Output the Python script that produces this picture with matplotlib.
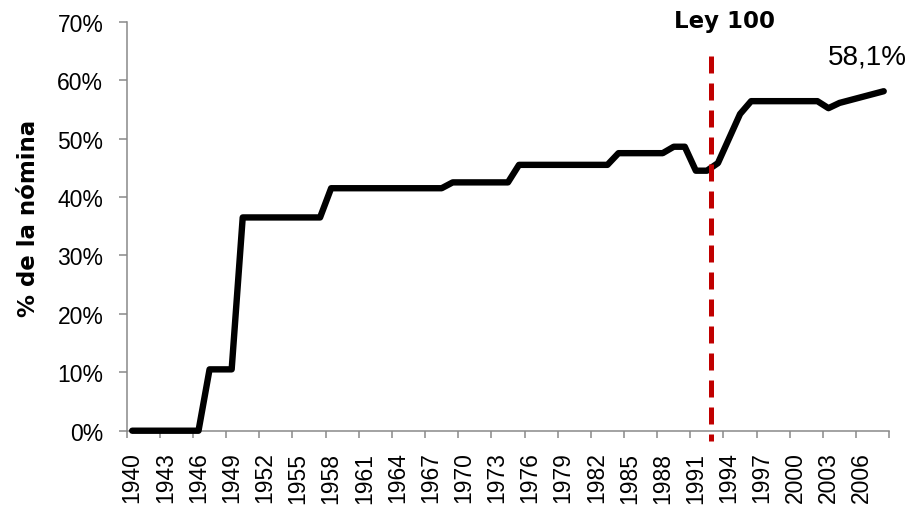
import matplotlib
matplotlib.use("Agg")
import matplotlib.pyplot as plt
from matplotlib.ticker import FuncFormatter, FixedLocator

# Contribution rate as share of payroll, 1940-2008
years = list(range(1940, 2009))
rate = [
    0.0, 0.0, 0.0, 0.0, 0.0, 0.0, 0.0,                      # 1940-1946
    10.5, 10.5, 10.5,                                        # 1947-1949
    36.5, 36.5, 36.5, 36.5, 36.5, 36.5, 36.5, 36.5,          # 1950-1957
    41.5, 41.5, 41.5, 41.5, 41.5, 41.5, 41.5, 41.5, 41.5, 41.5, 41.5,  # 1958-1968
    42.5, 42.5, 42.5, 42.5, 42.5, 42.5,                      # 1969-1974
    45.5, 45.5, 45.5, 45.5, 45.5, 45.5, 45.5, 45.5, 45.5,    # 1975-1983
    47.5, 47.5, 47.5, 47.5, 47.5,                            # 1984-1988
    48.6, 48.6,                                              # 1989-1990
    44.5, 44.5,                                              # 1991-1992
    45.8, 50.0, 54.2,                                        # 1993-1995
    56.4, 56.4, 56.4, 56.4, 56.4, 56.4, 56.4,                # 1996-2002
    55.2, 56.1, 56.6, 57.1, 57.6, 58.1,                      # 2003-2008
]
label_years = list(range(1940, 2007, 3))
ley100_x = 1992.35
end_label = "58,1%"

plt.rcParams["font.family"] = ["Liberation Sans", "DejaVu Sans"]

fig = plt.figure(figsize=(9.1, 5.1), dpi=100)
ax = fig.add_axes([0.1392, 0.1535, 0.8380, 0.8020])

ax.plot(years, [v / 100 for v in rate], color="black", lw=4.6,
        solid_capstyle="round", solid_joinstyle="round", clip_on=False, zorder=3)

# Ley 100 marker
ax.plot([ley100_x, ley100_x], [0.642, -0.018], color="#C00000", lw=3.6,
        dashes=(3.4, 2.0), clip_on=False, zorder=4)
ax.text(1993.55, 0.6915, "Ley 100", ha="center", va="baseline",
        fontsize=16.5, fontweight="bold", family="DejaVu Sans", clip_on=False)
ax.text(2006.5, 0.6285, end_label, ha="center", va="baseline", fontsize=20)

ax.set_xlim(1939.5, 2008.5)
ax.set_ylim(0, 0.7)

# x axis: tick marks between groups of three years, labels centered on years
ax.xaxis.set_major_locator(FixedLocator(label_years))
ax.set_xticklabels([str(y) for y in label_years], rotation=90)
ax.xaxis.set_minor_locator(FixedLocator([1939.5 + 3 * k for k in range(24)]))
ax.tick_params(axis="x", which="major", length=0, pad=15, labelsize=16.5)
ax.tick_params(axis="x", which="minor", length=4.8, width=1.1, color="#898989",
               direction="out")

ax.set_yticks([i / 10 for i in range(8)])
ax.yaxis.set_major_formatter(FuncFormatter(lambda v, p: f"{v * 100:.0f}%"))
ax.tick_params(axis="y", length=5.8, width=1.1, color="#898989", pad=11,
               labelsize=16.5)

for s in ["top", "right"]:
    ax.spines[s].set_visible(False)
for s in ["left", "bottom"]:
    ax.spines[s].set_color("#898989")
    ax.spines[s].set_linewidth(1.1)

ax.set_ylabel("% de la nómina", fontsize=16.5, fontweight="bold",
              family="DejaVu Sans", va="center")
ax.yaxis.set_label_coords(-0.129, 0.522)

fig.savefig("out.png", dpi=100)
